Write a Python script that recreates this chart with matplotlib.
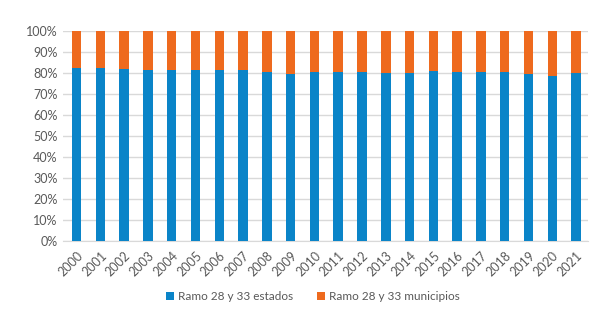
import matplotlib
matplotlib.use("Agg")
import matplotlib.pyplot as plt
import numpy as np
from matplotlib.ticker import PercentFormatter

years = [str(y) for y in range(2000, 2022)]
estados = [82.4, 82.4, 82.1, 81.3, 81.3, 81.6, 81.6, 81.3, 80.5, 79.7, 80.6,
           80.3, 80.6, 80.2, 80.2, 81.0, 80.6, 80.6, 80.6, 79.5, 78.4, 80.2]
municipios = [100 - v for v in estados]

blue = "#0A84C8"
orange = "#EE6A1E"
txt = "#595959"

plt.rcParams['font.family'] = ['Lato', 'DejaVu Sans']

fig = plt.figure(figsize=(6.02, 3.14), dpi=100)
ax = fig.add_axes([0.1047, 0.2325, 0.872, 0.6685])

x = np.arange(len(years))
w = 0.4
ax.bar(x, estados, w, color=blue, label="Ramo 28 y 33 estados", zorder=3)
ax.bar(x, municipios, w, bottom=estados, color=orange, label="Ramo 28 y 33 municipios", zorder=3)

ax.set_ylim(0, 100)
ax.set_xlim(-0.57, len(years) - 0.5)
ax.set_yticks(np.arange(0, 101, 10))
ax.yaxis.set_major_formatter(PercentFormatter(decimals=0))
ax.grid(axis='y', color='#D9D9D9', linewidth=1, zorder=0)
for s in ['top', 'right', 'left']:
    ax.spines[s].set_visible(False)
ax.spines['bottom'].set_color('#D9D9D9')
ax.set_xticks(x)
ax.set_xticklabels(years, rotation=45, ha='right', rotation_mode='anchor')
ax.tick_params(axis='both', length=0, labelsize=9, colors=txt, pad=4)
ax.tick_params(axis='x', pad=6)

fig.legend(loc='center', bbox_to_anchor=(0.52, 0.055), ncol=2, frameon=False,
           fontsize=8.5, labelcolor=txt, handlelength=0.7, handleheight=0.7,
           handletextpad=0.35, columnspacing=2.0)

fig.savefig("out.png", dpi=100)
